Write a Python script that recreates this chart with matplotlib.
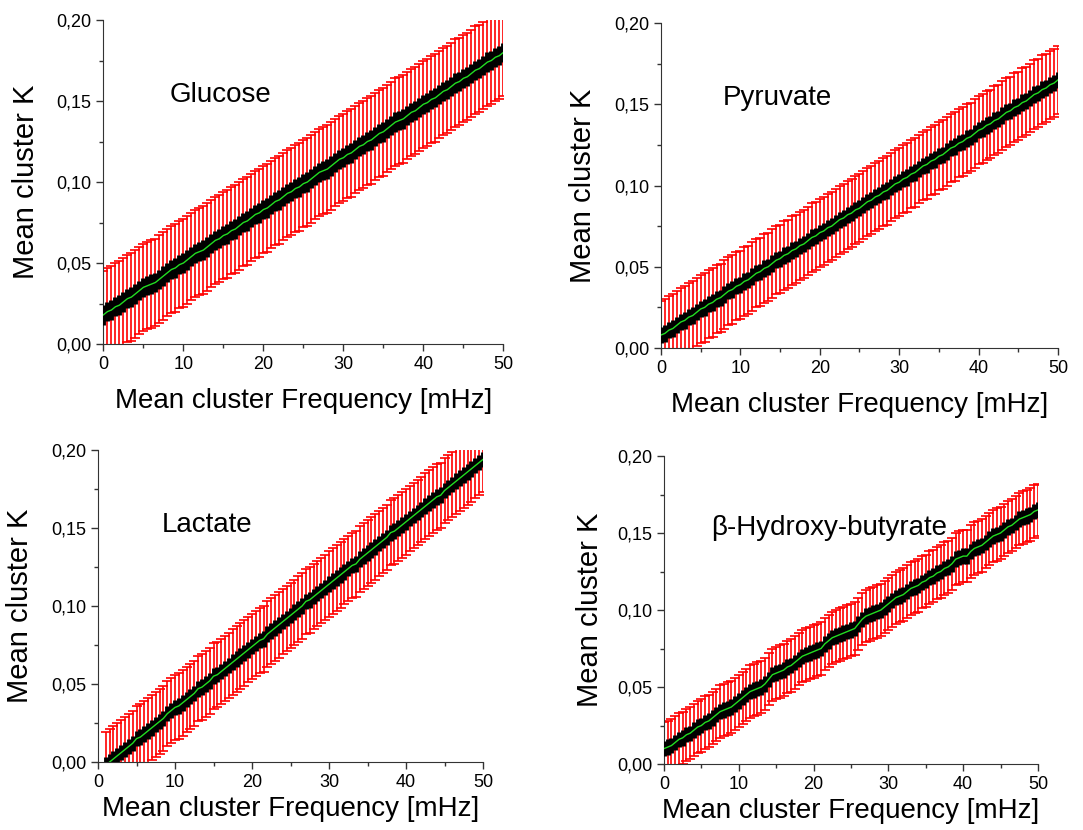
import numpy as np
import matplotlib
matplotlib.use('Agg')
import matplotlib.pyplot as plt
from matplotlib.ticker import MultipleLocator, FuncFormatter

plt.rcParams['font.family'] = ['Liberation Sans', 'DejaVu Sans']

# frequency grid (mHz), one point every 0.5
freq = [i * 0.5 for i in range(101)]
freq_lactate = [1 + i * 0.5 for i in range(99)]

glucose = [0.018, 0.020, 0.021, 0.023, 0.024, 0.026, 0.028, 0.029, 0.031, 0.033,
           0.035, 0.036, 0.037, 0.038, 0.040, 0.042, 0.044, 0.046, 0.047, 0.049,
           0.050, 0.052, 0.054, 0.056, 0.057, 0.058, 0.060, 0.062, 0.064, 0.065,
           0.067, 0.068, 0.070, 0.071, 0.073, 0.075, 0.076, 0.078, 0.080, 0.081,
           0.083, 0.084, 0.086, 0.088, 0.089, 0.091, 0.093, 0.094, 0.096, 0.097,
           0.099, 0.100, 0.102, 0.104, 0.106, 0.107, 0.108, 0.110, 0.112, 0.114,
           0.115, 0.117, 0.118, 0.120, 0.122, 0.123, 0.125, 0.126, 0.128, 0.130,
           0.131, 0.133, 0.135, 0.137, 0.138, 0.139, 0.141, 0.143, 0.144, 0.146,
           0.148, 0.149, 0.151, 0.152, 0.154, 0.156, 0.157, 0.159, 0.161, 0.162,
           0.164, 0.165, 0.167, 0.169, 0.170, 0.172, 0.174, 0.175, 0.177, 0.178,
           0.180]

pyruvate = [0.008, 0.009, 0.011, 0.012, 0.014, 0.016, 0.017, 0.019, 0.020, 0.022,
            0.024, 0.025, 0.027, 0.028, 0.030, 0.031, 0.033, 0.035, 0.036, 0.038,
            0.039, 0.041, 0.042, 0.044, 0.046, 0.047, 0.049, 0.050, 0.052, 0.054,
            0.055, 0.057, 0.058, 0.060, 0.061, 0.063, 0.064, 0.066, 0.068, 0.069,
            0.071, 0.072, 0.074, 0.075, 0.077, 0.079, 0.080, 0.082, 0.083, 0.085,
            0.086, 0.088, 0.090, 0.091, 0.093, 0.094, 0.096, 0.097, 0.099, 0.101,
            0.102, 0.104, 0.105, 0.107, 0.108, 0.110, 0.112, 0.113, 0.115, 0.116,
            0.118, 0.119, 0.121, 0.123, 0.124, 0.126, 0.127, 0.129, 0.130, 0.132,
            0.134, 0.135, 0.137, 0.138, 0.140, 0.141, 0.143, 0.145, 0.146, 0.148,
            0.149, 0.151, 0.152, 0.154, 0.156, 0.157, 0.159, 0.160, 0.162, 0.163,
            0.165]

lactate = [-0.002, 0.000, 0.002, 0.004, 0.006, 0.008, 0.010, 0.012, 0.015, 0.016,
           0.018, 0.020, 0.022, 0.024, 0.026, 0.028, 0.031, 0.033, 0.035, 0.036,
           0.038, 0.040, 0.042, 0.044, 0.047, 0.048, 0.050, 0.052, 0.055, 0.056,
           0.058, 0.060, 0.062, 0.064, 0.066, 0.068, 0.070, 0.072, 0.074, 0.076,
           0.078, 0.079, 0.082, 0.084, 0.086, 0.088, 0.090, 0.092, 0.094, 0.096,
           0.098, 0.100, 0.103, 0.104, 0.106, 0.108, 0.110, 0.112, 0.114, 0.116,
           0.118, 0.120, 0.122, 0.124, 0.126, 0.127, 0.130, 0.132, 0.134, 0.136,
           0.138, 0.140, 0.142, 0.144, 0.147, 0.148, 0.150, 0.152, 0.154, 0.156,
           0.158, 0.160, 0.162, 0.164, 0.166, 0.168, 0.170, 0.171, 0.174, 0.176,
           0.178, 0.180, 0.182, 0.184, 0.186, 0.188, 0.190, 0.192, 0.194]

hydroxy = [0.010, 0.011, 0.012, 0.014, 0.016, 0.017, 0.019, 0.020, 0.022, 0.024,
           0.025, 0.027, 0.028, 0.030, 0.032, 0.034, 0.035, 0.036, 0.037, 0.039,
           0.041, 0.043, 0.045, 0.047, 0.048, 0.049, 0.050, 0.052, 0.055, 0.058,
           0.059, 0.060, 0.061, 0.063, 0.064, 0.066, 0.068, 0.070, 0.071, 0.072,
           0.073, 0.074, 0.075, 0.078, 0.080, 0.082, 0.083, 0.084, 0.085, 0.086,
           0.087, 0.088, 0.091, 0.094, 0.096, 0.097, 0.098, 0.099, 0.100, 0.102,
           0.104, 0.106, 0.108, 0.109, 0.110, 0.112, 0.114, 0.115, 0.116, 0.118,
           0.119, 0.121, 0.122, 0.124, 0.125, 0.127, 0.128, 0.130, 0.133, 0.134,
           0.135, 0.135, 0.138, 0.140, 0.141, 0.142, 0.144, 0.146, 0.148, 0.149,
           0.150, 0.152, 0.154, 0.155, 0.157, 0.159, 0.160, 0.161, 0.162, 0.164,
           0.165]

# standard deviation (red) and standard error (black) per metabolite
sd_glucose, se_glucose = 0.027, 0.006
sd_pyruvate, se_pyruvate = 0.021, 0.005
sd_lactate, se_lactate = 0.021, 0.005
sd_hydroxy, se_hydroxy = 0.017, 0.005

names = ['Glucose', 'Pyruvate', 'Lactate', 'β-Hydroxy-butyrate']
xs = [freq, freq, freq_lactate, freq]
means = [glucose, pyruvate, lactate, hydroxy]
sds = [sd_glucose, sd_pyruvate, sd_lactate, sd_hydroxy]
ses = [se_glucose, se_pyruvate, se_lactate, se_hydroxy]

# axes boxes in figure fraction (left, bottom, width, height)
boxes = [[0.0955, 0.5855, 0.3693, 0.3904],
         [0.6103, 0.5807, 0.3666, 0.3916],
         [0.0905, 0.0819, 0.3555, 0.3759],
         [0.6131, 0.0795, 0.3453, 0.3711]]
name_pos = [(14.65, 0.154), (14.6, 0.154), (14.2, 0.152), (22.1, 0.153)]
ylabel_pad = [12, 12, 12, 9]
xlabel_pad = [11, 11, 4, 4]

fig = plt.figure(figsize=(10.83, 8.30), dpi=100)

for i in range(4):
    ax = fig.add_axes(boxes[i])
    x = np.array(xs[i])
    y = np.array(means[i])
    ax.errorbar(x, y, yerr=sds[i], fmt='none', ecolor='#ff0000', elinewidth=1.2,
                capsize=3.5, capthick=1.2, zorder=2)
    ax.errorbar(x, y, yerr=ses[i], fmt='none', ecolor='black', elinewidth=3.5,
                capsize=0, zorder=3)
    ax.plot(x, y, color='#22dd22', lw=1, zorder=4)

    ax.set_xlim(0, 50)
    ax.set_ylim(0, 0.20)
    ax.xaxis.set_major_locator(MultipleLocator(10))
    ax.xaxis.set_minor_locator(MultipleLocator(5))
    ax.yaxis.set_major_locator(MultipleLocator(0.05))
    ax.yaxis.set_minor_locator(MultipleLocator(0.025))
    ax.yaxis.set_major_formatter(FuncFormatter(lambda v, p: ('%.2f' % v).replace('.', ',')))
    ax.xaxis.set_major_formatter(FuncFormatter(lambda v, p: '%d' % v))
    ax.tick_params(which='major', direction='out', length=5, width=1, labelsize=13, color='#333333')
    ax.tick_params(which='minor', direction='out', length=3, width=1, color='#333333')
    ax.spines['top'].set_visible(False)
    ax.spines['right'].set_visible(False)
    ax.spines['left'].set_color('#333333')
    ax.spines['bottom'].set_color('#333333')

    ax.set_xlabel('Mean cluster Frequency [mHz]', fontsize=20, labelpad=xlabel_pad[i])
    ax.set_ylabel('Mean cluster K', fontsize=21, labelpad=ylabel_pad[i])
    ax.text(name_pos[i][0], name_pos[i][1], names[i], fontsize=20,
            ha='center', va='center')

plt.savefig('out.png', dpi=100)
